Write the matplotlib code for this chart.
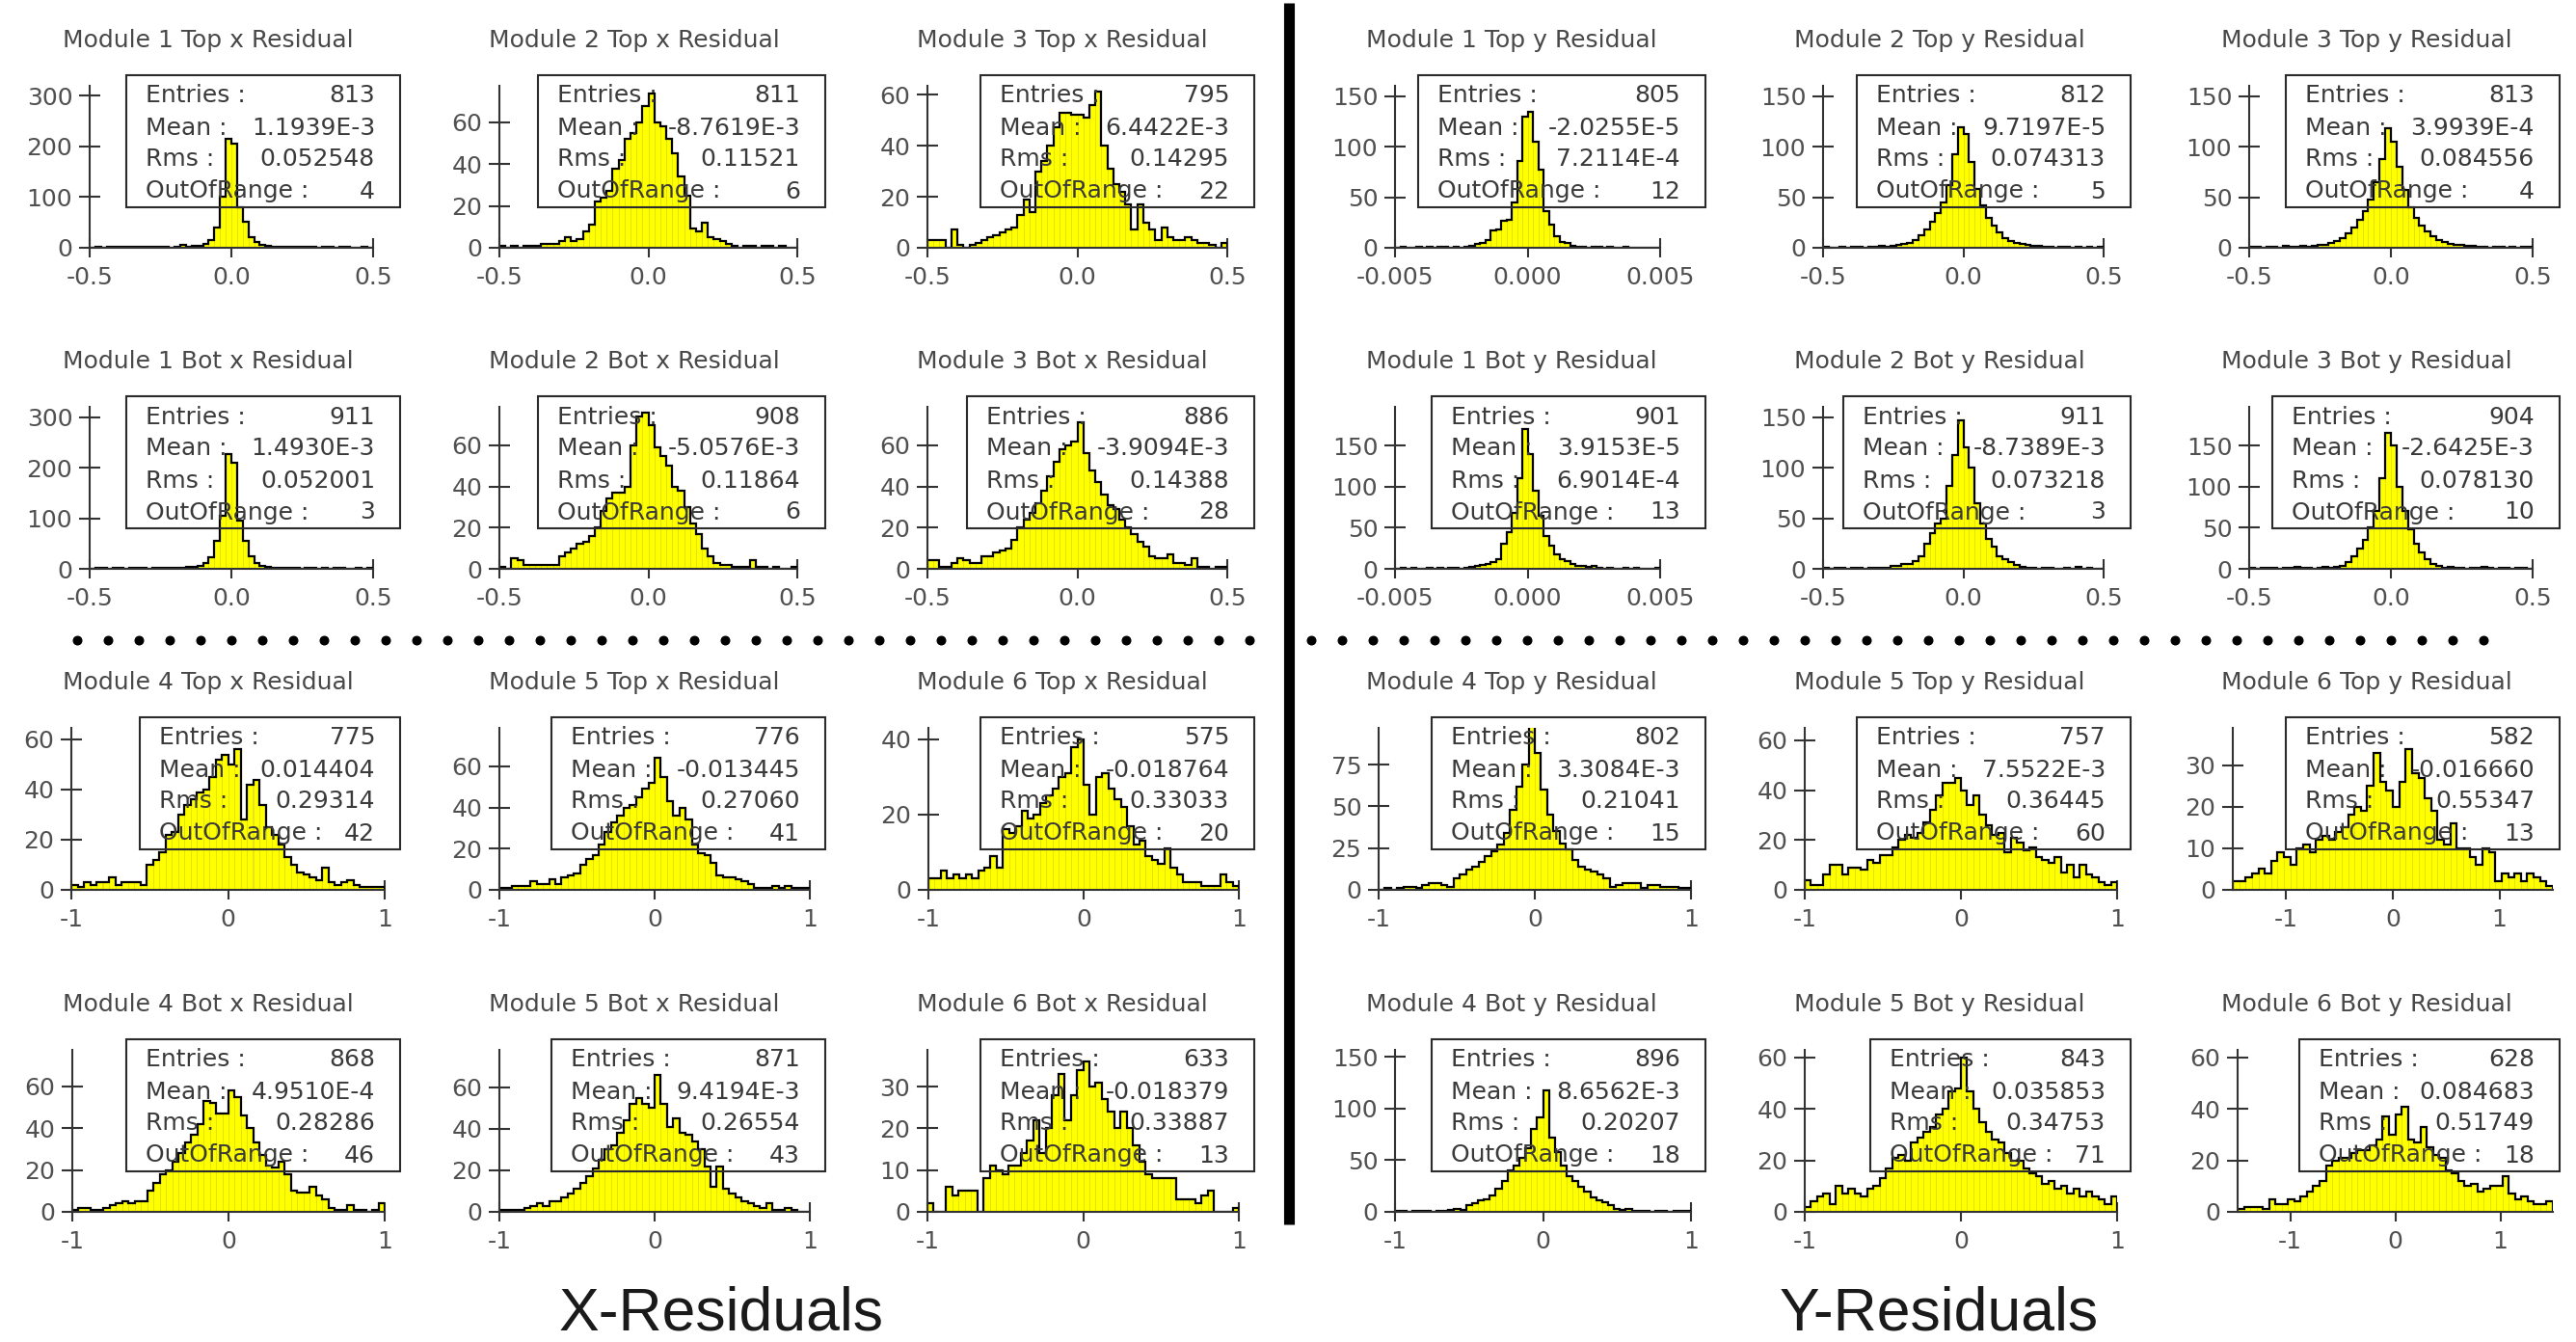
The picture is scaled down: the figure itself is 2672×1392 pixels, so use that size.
import numpy as np
import matplotlib
matplotlib.use("Agg")
import matplotlib.pyplot as plt
from matplotlib.lines import Line2D
from matplotlib.patches import Rectangle
from matplotlib.ticker import MultipleLocator, FormatStrFormatter

plt.rcParams["font.family"] = "DejaVu Sans"
plt.rcParams["axes.unicode_minus"] = False

# bin contents, 50 bins per histogram
m1_top_x = [0, 1, 0, 1, 2, 1, 1, 2, 1, 1, 1, 2, 1, 1, 0, 2, 5, 2, 3, 4,
            8, 15, 40, 100, 214, 205, 80, 52, 20, 12, 5, 3, 2, 1, 2, 1, 1, 2, 1, 1,
            0, 1, 1, 0, 2, 1, 0, 0, 1, 0]
m2_top_x = [1, 0, 1, 0, 1, 1, 1, 2, 2, 2, 3, 5, 3, 4, 8, 11, 22, 24, 27, 38,
            42, 52, 55, 60, 68, 74, 60, 58, 52, 45, 34, 25, 9, 8, 12, 5, 4, 3, 2, 1,
            0, 1, 1, 0, 1, 1, 0, 1, 0, 0]
m3_top_x = [3, 3, 3, 0, 7, 1, 0, 1, 2, 3, 4, 5, 6, 7, 8, 13, 19, 14, 30, 34,
            40, 47, 53, 53, 52, 52, 51, 56, 61, 40, 31, 25, 22, 17, 7, 17, 10, 7, 3, 8,
            4, 3, 3, 4, 3, 2, 2, 1, 0, 2]
m1_top_y = [0, 1, 0, 0, 1, 0, 1, 0, 1, 1, 0, 1, 0, 1, 2, 4, 5, 8, 17, 18,
            27, 28, 45, 86, 130, 134, 105, 77, 36, 23, 11, 6, 5, 2, 1, 1, 0, 1, 1, 0,
            1, 0, 0, 1, 0, 0, 0, 0, 0, 0]
m2_top_y = [1, 0, 0, 1, 0, 1, 1, 0, 1, 1, 2, 1, 2, 3, 4, 5, 8, 12, 18, 26,
            34, 45, 62, 92, 119, 112, 85, 58, 42, 30, 22, 15, 10, 7, 5, 4, 3, 2, 2, 1,
            1, 0, 1, 1, 0, 1, 0, 1, 0, 1]
m3_top_y = [1, 1, 0, 1, 1, 0, 2, 1, 1, 2, 1, 2, 3, 3, 5, 7, 10, 14, 20, 28,
            36, 48, 65, 88, 118, 105, 80, 57, 40, 30, 22, 16, 11, 8, 6, 4, 3, 3, 2, 2,
            1, 1, 0, 1, 1, 0, 1, 0, 1, 1]

m1_bot_x = [0, 1, 1, 0, 2, 1, 0, 1, 1, 1, 0, 1, 1, 2, 1, 1, 2, 3, 4, 6,
            12, 22, 55, 105, 228, 210, 95, 55, 24, 12, 6, 3, 2, 1, 2, 1, 1, 0, 2, 1,
            0, 1, 0, 1, 1, 0, 0, 2, 0, 1]
m2_bot_x = [1, 0, 5, 4, 2, 2, 2, 2, 2, 2, 6, 8, 10, 12, 13, 16, 20, 28, 34, 37,
            37, 40, 60, 74, 76, 70, 59, 55, 50, 40, 38, 30, 22, 17, 10, 6, 3, 2, 2, 1,
            1, 1, 4, 1, 1, 0, 1, 0, 0, 1]
m3_bot_x = [4, 4, 1, 1, 3, 5, 4, 3, 3, 6, 6, 8, 9, 10, 14, 20, 24, 27, 32, 38,
            45, 52, 58, 60, 62, 71, 56, 48, 42, 36, 31, 29, 24, 20, 17, 13, 11, 6, 5, 5,
            7, 3, 3, 2, 5, 1, 1, 0, 1, 1]
m1_bot_y = [0, 1, 0, 1, 0, 0, 1, 0, 1, 0, 1, 1, 0, 1, 2, 3, 5, 6, 8, 12,
            30, 45, 68, 110, 170, 140, 95, 65, 40, 28, 18, 12, 9, 6, 4, 3, 2, 4, 1, 0,
            1, 0, 0, 1, 0, 1, 0, 0, 0, 1]
m2_bot_y = [1, 0, 1, 1, 0, 1, 1, 0, 1, 1, 1, 1, 3, 3, 5, 5, 8, 12, 25, 35,
            45, 50, 82, 112, 147, 120, 100, 65, 45, 30, 22, 12, 10, 7, 4, 2, 1, 1, 0, 1,
            1, 0, 0, 1, 0, 2, 0, 1, 0, 0]
m3_bot_y = [1, 0, 1, 1, 1, 0, 1, 1, 2, 1, 1, 0, 1, 2, 1, 2, 4, 8, 15, 25,
            35, 50, 70, 110, 165, 150, 100, 70, 48, 30, 20, 12, 6, 3, 1, 2, 1, 1, 0, 1,
            1, 2, 1, 0, 1, 1, 0, 1, 1, 0]

m4_top_x = [2, 1, 3, 2, 3, 3, 5, 2, 3, 3, 3, 2, 10, 12, 15, 22, 23, 30, 34, 36,
            39, 40, 45, 52, 54, 50, 56, 28, 42, 44, 34, 25, 22, 18, 13, 10, 7, 6, 5, 4,
            9, 3, 2, 3, 4, 2, 1, 1, 1, 1]
m5_top_x = [1, 1, 2, 2, 2, 4, 3, 3, 5, 3, 6, 7, 8, 12, 15, 17, 22, 28, 33, 36,
            40, 41, 45, 49, 52, 64, 55, 43, 36, 40, 34, 22, 18, 17, 13, 7, 6, 6, 5, 4,
            3, 1, 1, 1, 2, 1, 2, 1, 1, 1]
m6_top_x = [3, 3, 5, 3, 4, 3, 4, 3, 5, 6, 9, 6, 16, 15, 17, 21, 19, 20, 23, 25,
            27, 30, 31, 38, 40, 28, 20, 30, 31, 27, 24, 22, 17, 12, 13, 9, 8, 7, 11, 6,
            4, 2, 2, 2, 1, 1, 1, 4, 2, 1]
m4_top_y = [0, 1, 0, 1, 2, 2, 1, 3, 4, 4, 3, 2, 7, 9, 12, 14, 17, 20, 23, 27,
            34, 48, 62, 75, 100, 82, 60, 45, 35, 28, 24, 18, 14, 12, 11, 9, 7, 2, 3, 4,
            4, 4, 1, 3, 3, 2, 2, 2, 1, 1]
m5_top_y = [4, 2, 2, 6, 10, 10, 6, 9, 9, 8, 12, 11, 14, 14, 17, 20, 22, 21, 23, 27,
            32, 38, 43, 43, 45, 40, 34, 38, 30, 26, 22, 23, 15, 21, 19, 16, 17, 13, 12, 11,
            13, 7, 10, 5, 10, 6, 5, 3, 2, 3]
m6_top_y = [2, 2, 3, 4, 5, 4, 7, 9, 8, 6, 10, 11, 9, 12, 13, 12, 14, 15, 18, 20,
            19, 25, 33, 26, 24, 20, 26, 34, 28, 27, 22, 19, 12, 11, 16, 10, 10, 8, 6, 10,
            9, 2, 4, 3, 4, 2, 4, 3, 2, 1]

m4_bot_x = [1, 2, 2, 1, 1, 2, 3, 4, 5, 4, 5, 5, 10, 14, 18, 20, 24, 28, 33, 37,
            42, 53, 52, 47, 47, 58, 55, 46, 40, 33, 27, 22, 21, 24, 18, 10, 9, 9, 12, 8,
            6, 2, 1, 1, 3, 1, 1, 0, 1, 4]
m5_bot_x = [1, 1, 1, 1, 2, 3, 4, 3, 5, 5, 7, 9, 11, 14, 17, 21, 25, 30, 32, 38,
            44, 52, 55, 52, 50, 66, 52, 41, 45, 38, 37, 34, 30, 22, 12, 22, 11, 9, 7, 5,
            4, 3, 2, 4, 1, 1, 2, 1, 0, 0]
m6_bot_x = [2, 0, 0, 6, 4, 5, 5, 5, 0, 8, 11, 10, 9, 11, 11, 14, 17, 22, 14, 20,
            28, 33, 22, 28, 34, 36, 30, 31, 27, 24, 20, 24, 20, 16, 12, 9, 8, 8, 8, 8,
            3, 3, 3, 2, 4, 5, 0, 0, 0, 1]
m4_bot_y = [1, 1, 0, 1, 1, 1, 0, 1, 1, 2, 3, 2, 7, 8, 11, 12, 16, 22, 30, 40,
            45, 52, 62, 80, 92, 118, 72, 58, 45, 35, 30, 24, 20, 14, 11, 9, 7, 3, 2, 3,
            1, 1, 1, 0, 1, 1, 0, 1, 1, 1]
m5_bot_y = [2, 4, 6, 7, 3, 10, 7, 9, 7, 6, 9, 10, 13, 17, 21, 22, 20, 27, 29, 31,
            33, 38, 40, 47, 48, 60, 47, 40, 35, 31, 28, 27, 23, 20, 20, 17, 15, 14, 11, 12,
            9, 10, 7, 9, 6, 8, 6, 5, 3, 6]
m6_bot_y = [1, 2, 2, 2, 1, 5, 3, 3, 5, 4, 6, 8, 10, 12, 18, 20, 21, 21, 23, 24,
            24, 26, 28, 37, 30, 38, 41, 28, 27, 33, 25, 22, 21, 16, 15, 12, 10, 11, 8, 9,
            10, 10, 14, 7, 5, 6, 4, 3, 3, 4]

counts_grid = [
    [m1_top_x, m2_top_x, m3_top_x, m1_top_y, m2_top_y, m3_top_y],
    [m1_bot_x, m2_bot_x, m3_bot_x, m1_bot_y, m2_bot_y, m3_bot_y],
    [m4_top_x, m5_top_x, m6_top_x, m4_top_y, m5_top_y, m6_top_y],
    [m4_bot_x, m5_bot_x, m6_bot_x, m4_bot_y, m5_bot_y, m6_bot_y],
]

titles = [
    ["Module 1 Top x Residual", "Module 2 Top x Residual", "Module 3 Top x Residual",
     "Module 1 Top y Residual", "Module 2 Top y Residual", "Module 3 Top y Residual"],
    ["Module 1 Bot x Residual", "Module 2 Bot x Residual", "Module 3 Bot x Residual",
     "Module 1 Bot y Residual", "Module 2 Bot y Residual", "Module 3 Bot y Residual"],
    ["Module 4 Top x Residual", "Module 5 Top x Residual", "Module 6 Top x Residual",
     "Module 4 Top y Residual", "Module 5 Top y Residual", "Module 6 Top y Residual"],
    ["Module 4 Bot x Residual", "Module 5 Bot x Residual", "Module 6 Bot x Residual",
     "Module 4 Bot y Residual", "Module 5 Bot y Residual", "Module 6 Bot y Residual"],
]

entries = [[813, 811, 795, 805, 812, 813],
           [911, 908, 886, 901, 911, 904],
           [775, 776, 575, 802, 757, 582],
           [868, 871, 633, 896, 843, 628]]
means = [["1.1939E-3", "-8.7619E-3", "6.4422E-3", "-2.0255E-5", "9.7197E-5", "3.9939E-4"],
         ["1.4930E-3", "-5.0576E-3", "-3.9094E-3", "3.9153E-5", "-8.7389E-3", "-2.6425E-3"],
         ["0.014404", "-0.013445", "-0.018764", "3.3084E-3", "7.5522E-3", "-0.016660"],
         ["4.9510E-4", "9.4194E-3", "-0.018379", "8.6562E-3", "0.035853", "0.084683"]]
rms = [["0.052548", "0.11521", "0.14295", "7.2114E-4", "0.074313", "0.084556"],
       ["0.052001", "0.11864", "0.14388", "6.9014E-4", "0.073218", "0.078130"],
       ["0.29314", "0.27060", "0.33033", "0.21041", "0.36445", "0.55347"],
       ["0.28286", "0.26554", "0.33887", "0.20207", "0.34753", "0.51749"]]
out_of_range = [[4, 6, 22, 12, 5, 4],
                [3, 6, 28, 13, 3, 10],
                [42, 41, 20, 15, 60, 13],
                [46, 43, 13, 18, 71, 18]]

# half width of each histogram range
x_half = [[0.5, 0.5, 0.5, 0.005, 0.5, 0.5],
          [0.5, 0.5, 0.5, 0.005, 0.5, 0.5],
          [1, 1, 1, 1, 1, 1.5],
          [1, 1, 1, 1, 1, 1.5]]
y_top = [[319, 77.5, 63.4, 160, 160, 160],
         [321, 78.7, 78.7, 197, 160, 197],
         [64.6, 78.7, 43, 97, 65, 39],
         [77.5, 78, 38.8, 157, 63, 63]]
y_step = [[100, 20, 20, 50, 50, 50],
          [100, 20, 20, 50, 50, 50],
          [20, 20, 20, 25, 20, 10],
          [20, 20, 10, 50, 20, 20]]

# page layout in pixels
W, H = 2672, 1392
axes_px = [
    [(93, 387), (518, 827), (962, 1273), (1447, 1722), (1891, 2182), (2333, 2627)],
    [(93, 387), (518, 827), (962, 1273), (1447, 1722), (1891, 2182), (2333, 2627)],
    [(74, 399), (518, 840), (963, 1285), (1430, 1754), (1872, 2196), (2316, 2648)],
    [(75, 399), (518, 840), (962, 1285), (1447, 1754), (1872, 2196), (2321, 2648)],
]
zero_rows = [257, 590, 923, 1257]
box_right = [415, 856, 1301, 1769, 2210, 2655]
title_cx = [216, 658, 1102, 1568, 2012, 2455]
AX_H = 168


def fx(px):
    return px / W


def fy(py):
    return 1 - py / H


fig = plt.figure(figsize=(W / 100, H / 100), dpi=100)
fig.patch.set_facecolor("white")

tick_col = "#505050"
line_col = "#333333"

for r in range(4):
    zero = zero_rows[r]
    for c in range(6):
        counts = np.array(counts_grid[r][c])
        half = x_half[r][c]
        edges = np.linspace(-half, half, len(counts) + 1)
        left, right = axes_px[r][c]

        ax = fig.add_axes([fx(left), fy(zero), (right - left) / W, AX_H / H])
        ax.patch.set_alpha(0)
        ax.bar(edges[:-1], counts, width=np.diff(edges), align="edge",
               color="#ffff00", edgecolor="#e2e200", linewidth=0.6, zorder=1)
        ax.stairs(counts, edges, color="black", linewidth=1.6, zorder=2)

        ax.set_xlim(-half, half)
        ax.set_ylim(0, y_top[r][c])
        if half <= 1:
            ax.set_xticks([-half, 0, half])
        else:
            ax.set_xticks([-1, 0, 1])
        if half == 0.5:
            ax.xaxis.set_major_formatter(FormatStrFormatter("%.1f"))
        elif half == 0.005:
            ax.xaxis.set_major_formatter(FormatStrFormatter("%.3f"))
        else:
            ax.xaxis.set_major_formatter(FormatStrFormatter("%d"))
        ax.yaxis.set_major_locator(MultipleLocator(y_step[r][c]))
        ax.yaxis.set_major_formatter(FormatStrFormatter("%d"))

        for side in ("top", "right"):
            ax.spines[side].set_visible(False)
        for side in ("left", "bottom"):
            ax.spines[side].set_linewidth(1.5)
            ax.spines[side].set_color(line_col)
        ax.set_axisbelow(True)
        ax.tick_params(axis="y", direction="inout", length=16.5, width=1.5,
                       pad=4.5, labelsize=18, labelcolor=tick_col, color=line_col)
        ax.tick_params(axis="x", direction="inout", length=14, width=1.5,
                       pad=7, labelsize=18, labelcolor=tick_col, color=line_col)

        fig.text(fx(title_cx[c]), fy(zero - 208), titles[r][c], ha="center",
                 va="baseline", fontsize=18, color="#484848")

        # statistics box
        n = max(len(means[r][c]), len(rms[r][c]))
        bw = 158 + 14 * n
        bl = box_right[c] - bw
        top = zero - 179
        fig.add_artist(Rectangle((fx(bl), fy(zero - 42)), bw / W, 137 / H,
                                 transform=fig.transFigure, fill=False,
                                 linewidth=1.5, edgecolor="#2b2b2b", zorder=5))
        rows = [("Entries :", str(entries[r][c])), ("Mean :", means[r][c]),
                ("Rms :", rms[r][c]), ("OutOfRange :", str(out_of_range[r][c]))]
        for k, (lab, val) in enumerate(rows):
            yy = fy(top + 19 + 33 * k + 9.5)
            fig.text(fx(bl + 20), yy, lab, ha="left", va="baseline",
                     fontsize=18, color="#3a3a3a", zorder=6)
            fig.text(fx(box_right[c] - 26), yy, val, ha="right", va="baseline",
                     fontsize=18, color="#3a3a3a", zorder=6)

# separators between the x and y halves and the module groups
fig.add_artist(Line2D([fx(1336.5)] * 2, [fy(3), fy(1270)], color="black",
                      linewidth=8, solid_capstyle="butt"))
dots_x = 80 + 32 * np.arange(79)
dots_x = dots_x[dots_x != 1328]
fig.add_artist(Line2D(fx(dots_x), np.full(len(dots_x), fy(664)), linestyle="none",
                      marker="o", markersize=6.2, color="black"))

fig.text(fx(748), fy(1380), "X-Residuals", ha="center", va="baseline",
         fontsize=45, family="Liberation Sans", color="#1a1a1a")
fig.text(fx(2011), fy(1380), "Y-Residuals", ha="center", va="baseline",
         fontsize=45, family="Liberation Sans", color="#1a1a1a")

fig.savefig("out.png", dpi=100, facecolor="white")
